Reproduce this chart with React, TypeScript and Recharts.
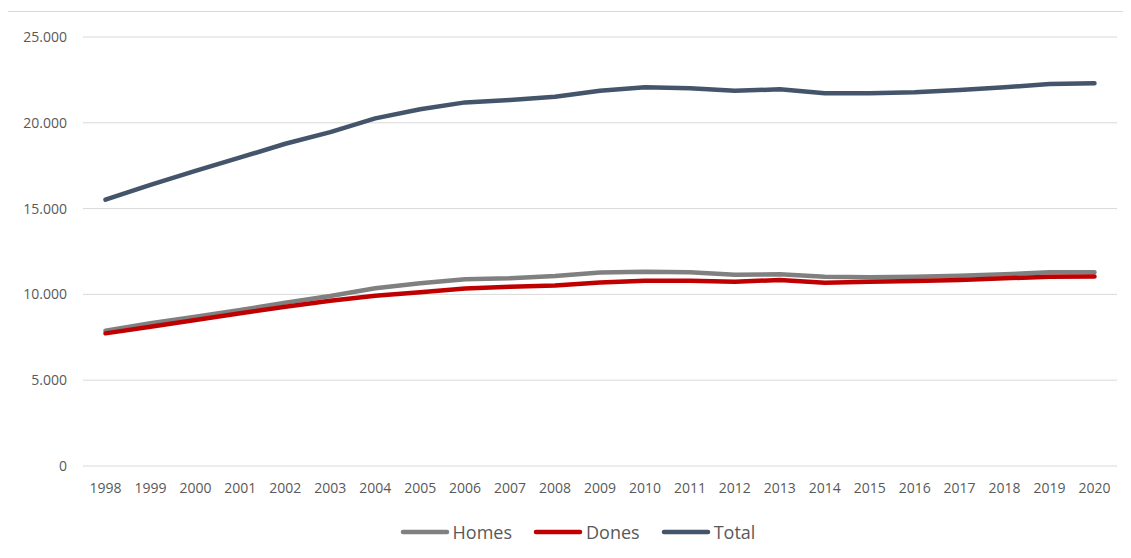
import {
  LineChart,
  Line,
  XAxis,
  YAxis,
  CartesianGrid,
  Legend,
} from "recharts";

const years = [
  "1998", "1999", "2000", "2001", "2002", "2003", "2004", "2005", "2006",
  "2007", "2008", "2009", "2010", "2011", "2012", "2013", "2014", "2015",
  "2016", "2017", "2018", "2019", "2020",
];

const homes = [
  7880, 8320, 8700, 9090, 9520, 9910, 10360, 10650, 10880, 10940, 11070,
  11270, 11320, 11290, 11150, 11170, 11030, 11000, 11030, 11090, 11170,
  11290, 11290,
];

const dones = [
  7730, 8120, 8510, 8900, 9280, 9630, 9920, 10130, 10350, 10450, 10520,
  10700, 10800, 10800, 10740, 10840, 10680, 10740, 10780, 10840, 10940,
  11030, 11040,
];

const total = [
  15520, 16380, 17200, 17980, 18780, 19460, 20260, 20790, 21190, 21330,
  21520, 21870, 22070, 22010, 21870, 21950, 21720, 21720, 21780, 21910,
  22070, 22260, 22300,
];

const yTicks = [0, 5000, 10000, 15000, 20000, 25000];

const series = [
  { key: "Homes", color: "#808080" },
  { key: "Dones", color: "#c00000" },
  { key: "Total", color: "#44546a" },
];

const data = years.map((year, i) => ({
  year,
  Homes: homes[i],
  Dones: dones[i],
  Total: total[i],
}));

const fmt = (v: number) =>
  String(v).replace(/\B(?=(\d{3})+(?!\d))/g, ".");

const tickStyle = { fontSize: 14, fill: "#595959", fontFamily: "Open Sans" };

const LegendBox = () => (
  <div
    style={{
      height: 48,
      boxSizing: "border-box",
      paddingTop: 1,
      paddingLeft: 51,
      display: "flex",
      justifyContent: "center",
      fontFamily: "Open Sans",
      fontSize: 18,
      color: "#595959",
      lineHeight: "24px",
      transform: "translateY(-4px)",
    }}
  >
    {series.map((s) => (
      <div
        key={s.key}
        style={{ display: "flex", alignItems: "center", marginRight: 21 }}
      >
        <svg width={50} height={24} style={{ marginRight: 3 }}>
          <line
            x1={3}
            y1={12}
            x2={47}
            y2={12}
            stroke={s.color}
            strokeWidth={4.5}
            strokeLinecap="round"
          />
        </svg>
        <span>{s.key}</span>
      </div>
    ))}
  </div>
);

export default function App() {
  return (
    <div
      style={{
        position: "relative",
        left: -1,
        top: 3,
        width: 1123,
        height: 547,
        borderLeft: "1px solid #d9d9d9",
        borderTop: "1px solid #d9d9d9",
        fontFamily: "Open Sans",
      }}
    >
      <LineChart
        width={1123}
        height={547}
        data={data}
        margin={{ top: 25, right: 14, left: 0, bottom: 0 }}
      >
        <CartesianGrid vertical={false} stroke="#d9d9d9" strokeWidth={1} />
        <XAxis
          dataKey="year"
          axisLine={false}
          tickLine={false}
          tickSize={0}
          tickMargin={17}
          height={45}
          interval={0}
          padding={{ left: 22.5, right: 22.5 }}
          tick={tickStyle}
        />
        <YAxis
          width={75}
          domain={[0, 25000]}
          ticks={yTicks}
          axisLine={false}
          tickLine={false}
          tickSize={0}
          tickMargin={16}
          tickFormatter={fmt}
          tick={tickStyle}
        />
        <Legend verticalAlign="bottom" content={<LegendBox />} />
        {series.map((s) => (
          <Line
            key={s.key}
            type="linear"
            dataKey={s.key}
            stroke={s.color}
            strokeWidth={4.5}
            strokeLinecap="round"
            strokeLinejoin="round"
            dot={false}
            activeDot={false}
            isAnimationActive={false}
          />
        ))}
      </LineChart>
    </div>
  );
}
